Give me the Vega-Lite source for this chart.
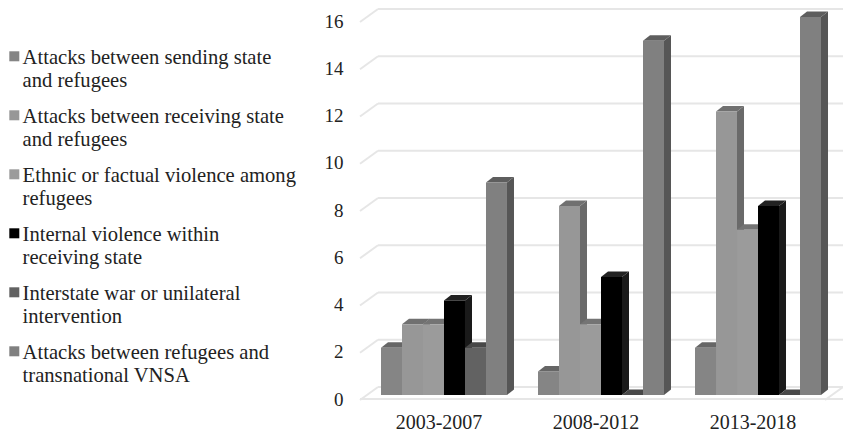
{
"$schema":"https://vega.github.io/schema/vega-lite/v6.json",
"width":465,"height":378,
"autosize":"none",
"padding":{"left":378,"top":17,"right":0,"bottom":41},
"background":"white",
"config":{"view":{"stroke":null},"font":"Liberation Serif",
"axisY":{"domain":false,"ticks":false,"grid":false,"tickCount":9,"labelFontSize":19,"labelColor":"#222222","labelPadding":35,"labelOffset":4,"labelFont":"Liberation Serif"},
"axisX":{"domain":false,"ticks":false,"labelAngle":0,"labelFontSize":20,"labelColor":"#222222","labelPadding":17,"labelOffset":-5,"labelFont":"Liberation Serif"}},
"data":{"values":[
{"period":"2003-2007","series":"Attacks between sending state\nand refugees","count":2},
{"period":"2003-2007","series":"Attacks between receiving state\nand refugees","count":3},
{"period":"2003-2007","series":"Ethnic or factual violence among\nrefugees","count":3},
{"period":"2003-2007","series":"Internal violence within\nreceiving state","count":4},
{"period":"2003-2007","series":"Interstate war or unilateral\nintervention","count":2},
{"period":"2003-2007","series":"Attacks between refugees and\ntransnational VNSA","count":9},
{"period":"2008-2012","series":"Attacks between sending state\nand refugees","count":1},
{"period":"2008-2012","series":"Attacks between receiving state\nand refugees","count":8},
{"period":"2008-2012","series":"Ethnic or factual violence among\nrefugees","count":3},
{"period":"2008-2012","series":"Internal violence within\nreceiving state","count":5},
{"period":"2008-2012","series":"Interstate war or unilateral\nintervention","count":0},
{"period":"2008-2012","series":"Attacks between refugees and\ntransnational VNSA","count":15},
{"period":"2013-2018","series":"Attacks between sending state\nand refugees","count":2},
{"period":"2013-2018","series":"Attacks between receiving state\nand refugees","count":12},
{"period":"2013-2018","series":"Ethnic or factual violence among\nrefugees","count":7},
{"period":"2013-2018","series":"Internal violence within\nreceiving state","count":8},
{"period":"2013-2018","series":"Interstate war or unilateral\nintervention","count":0},
{"period":"2013-2018","series":"Attacks between refugees and\ntransnational VNSA","count":16}
]},
"encoding":{
"x":{"field":"period","type":"nominal","title":null,"scale":{"paddingInner":0.1975,"paddingOuter":0.0796,"align":0.12}},
"y":{"field":"count","type":"quantitative","title":null,"scale":{"domain":[0,16],"nice":false}}
},
"layer":[
{"data":{"values":[{"tick":0},{"tick":2},{"tick":4},{"tick":6},{"tick":8},{"tick":10},{"tick":12},{"tick":14},{"tick":16}]},
 "mark":{"type":"rule","color":"#e6e6e6","strokeWidth":2,"yOffset":-8},
 "encoding":{"x":{"value":0},"x2":{"value":465},"y":{"field":"tick","type":"quantitative","title":null}}},
{"data":{"values":[{"tick":0},{"tick":2},{"tick":4},{"tick":6},{"tick":8},{"tick":10},{"tick":12},{"tick":14},{"tick":16}]},
 "mark":{"type":"point","filled":false,"color":"#e6e6e6","strokeWidth":2,"size":4,"opacity":1,"shape":"M0,0L-18,13","yOffset":-8},
 "encoding":{"x":{"value":0},"y":{"field":"tick","type":"quantitative","title":null}}},
{"data":{"values":[{"tick":0}]},
 "mark":{"type":"rule","color":"#e6e6e6","strokeWidth":2,"yOffset":4,"xOffset":-18},
 "encoding":{"x":{"value":0},"x2":{"value":465},"y":{"field":"tick","type":"quantitative","title":null}}},
{"data":{"values":[{"tick":0}]},
 "mark":{"type":"point","filled":false,"color":"#e6e6e6","strokeWidth":2,"size":4,"opacity":1,"shape":"M0,0L-18,13","yOffset":-8},
 "encoding":{"x":{"value":465},"y":{"field":"tick","type":"quantitative","title":null}}},
{"mark":{"type":"point","filled":true,"size":4,"opacity":1},
 "encoding":{
  "xOffset":{"field":"series","type":"nominal","sort":null},
  "shape":{"field":"count","type":"nominal","legend":null,"scale":{"domain":[0,1,2,3,4,5,7,8,9,12,15,16],"range":[
   "M10.5,0L17.5,-5.5L17.5,-5.5L10.5,0Z",
   "M10.5,0L17.5,-5.5L17.5,18.1L10.5,23.6Z",
   "M10.5,0L17.5,-5.5L17.5,41.75L10.5,47.25Z",
   "M10.5,0L17.5,-5.5L17.5,65.4L10.5,70.9Z",
   "M10.5,0L17.5,-5.5L17.5,89L10.5,94.5Z",
   "M10.5,0L17.5,-5.5L17.5,112.6L10.5,118.1Z",
   "M10.5,0L17.5,-5.5L17.5,159.9L10.5,165.4Z",
   "M10.5,0L17.5,-5.5L17.5,183.5L10.5,189Z",
   "M10.5,0L17.5,-5.5L17.5,207.1L10.5,212.6Z",
   "M10.5,0L17.5,-5.5L17.5,278L10.5,283.5Z",
   "M10.5,0L17.5,-5.5L17.5,348.9L10.5,354.4Z",
   "M10.5,0L17.5,-5.5L17.5,372.5L10.5,378Z"]}},
  "color":{"field":"series","type":"nominal","sort":null,"legend":null,"scale":{"range":["#5c5c5c","#6a6a6a","#6e6e6e","#1a1a1a","#404040","#565656"]}}}},
{"mark":{"type":"point","filled":true,"size":4,"opacity":1,"shape":"M-10.5,0L10.5,0L17.5,-5.5L-3.5,-5.5Z"},
 "encoding":{
  "xOffset":{"field":"series","type":"nominal","sort":null},
  "color":{"field":"series","type":"nominal","sort":null,"legend":null,"scale":{"range":["#666666","#707070","#747474","#222222","#484848","#5e5e5e"]}}}},
{"mark":{"type":"bar","width":21},
 "encoding":{
  "xOffset":{"field":"series","type":"nominal","sort":null},
  "color":{"field":"series","type":"nominal","sort":null,"title":null,"scale":{"range":["#858585","#979797","#9b9b9b","#000000","#626262","#808080"]},
   "legend":{"orient":"none","legendX":-374,"legendY":21,"title":null,"symbolType":"M-5,3H5V13H-5Z","symbolSize":4,"symbolStrokeWidth":0,"symbolOpacity":1,"labelFontSize":20.6,"labelColor":"#222222","labelFont":"Liberation Serif","labelLimit":320,"labelBaseline":"top","labelOffset":-2,"labelExpr":"split(datum.label,'\\n')","rowPadding":5}}}}
],
"resolve":{"scale":{"color":"independent"}}
}
